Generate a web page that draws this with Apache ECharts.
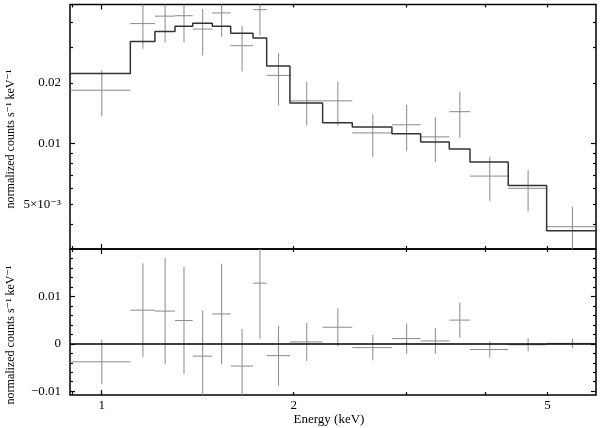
<!DOCTYPE html>
<html><head><meta charset="utf-8">
<script src="https://cdn.jsdelivr.net/npm/echarts@6/dist/echarts.min.js"></script>
<style>html,body{margin:0;padding:0;background:#fff}#c{width:600px;height:428px}</style>
</head><body><div id="c"></div>
<script>
// Energy bin edges (keV)
const binEdges = [0.892, 1.109, 1.212, 1.303, 1.389, 1.491, 1.593, 1.727, 1.814, 1.973, 2.220, 2.471, 2.851, 3.162, 3.507, 3.779, 4.338, 4.983, 5.955];
// Data (normalized counts s^-1 keV^-1)
const counts   = [0.0184, 0.0394, 0.0429, 0.0431, 0.0370, 0.0445, 0.0306, 0.0462, 0.0218, 0.0163, 0.0163, 0.0113, 0.0124, 0.0108, 0.0144, 0.0069, 0.0060, 0.00387];
const countErr = [0.0047, 0.0099, 0.0112, 0.0113, 0.0096, 0.0106, 0.0078, 0.0117, 0.0063, 0.0040, 0.0040, 0.0027, 0.0032, 0.0027, 0.0037, 0.0017, 0.0014, 0.0010];
// Folded model (step)
const model    = [0.0223, 0.0321, 0.0360, 0.0382, 0.0396, 0.0382, 0.0353, 0.0334, 0.0243, 0.0159, 0.0127, 0.0121, 0.0112, 0.0102, 0.0094, 0.0081, 0.0062, 0.0037];
// Residuals (data - model)
const residual = [-0.0038, 0.0071, 0.0069, 0.0049, -0.0026, 0.0063, -0.0047, 0.0128, -0.0025, 0.0004, 0.0035, -0.0008, 0.0011, 0.0006, 0.0050, -0.0012, -0.0002, 0.0001];
const residualErr = countErr;

// Ticks / labels
const xLabelValues = [1, 2, 5];
const xMajorTicks = [1];
const xMinorTicks = [0.9, 2, 3, 4, 5];
const yTopLabelValues = [0.005, 0.01, 0.02];
const yTopMajorTicks = [0.01];
const yTopMinorTicks = [0.004, 0.005, 0.006, 0.007, 0.008, 0.009, 0.02, 0.03, 0.04];
const yBotLabelValues = [-0.01, 0, 0.01];
const yBotMajorTicks = [-0.01, 0, 0.01];
const yBotMinorTicks = [-0.008, -0.006, -0.004, -0.002, 0.002, 0.004, 0.006, 0.008, 0.012, 0.014, 0.016, 0.018];
const yTitle = 'normalized counts s\u207B\u00B9 keV\u207B\u00B9';
const xTitle = 'Energy (keV)';

const FONT = '"Liberation Serif", "DejaVu Serif", serif';
const frameColor = '#000';
const dataColor = '#8a8a8a';
const modelColor = '#333';

const xMin = binEdges[0], xMax = binEdges[binEdges.length - 1];
const topMin = 0.003, topMax = 0.049;
const botMin = -0.0108, botMax = 0.02;

const tickStyle = {color: frameColor, width: 1.2};

function fmtTop(v) {
  const r = +(+v).toPrecision(6);
  if (Math.abs(r - 0.005) < 1e-9) return '5\u00D710\u207B\u00B3';
  return String(r);
}
function fmtBot(v) {
  const r = Math.round(v * 1e6) / 1e6;
  if (r === 0) return '0';
  return (r < 0 ? '\u2212' : '') + Math.abs(r);
}

function xAxesFor(gridIndex, withLabels) {
  const base = {
    type: 'log', logBase: 10, min: xMin, max: xMax, gridIndex,
    axisLine: {show: false, onZero: false},
    splitLine: {show: false}, minorTick: {show: false}, minorSplitLine: {show: false}
  };
  const arr = [];
  ['bottom', 'top'].forEach(pos => {
    const labelOn = withLabels && pos === 'bottom';
    arr.push(Object.assign({}, base, {
      position: pos,
      axisTick: {show: true, inside: true, length: 5, customValues: xMajorTicks, lineStyle: tickStyle},
      axisLabel: labelOn ? {show: true, customValues: xLabelValues, margin: 4, color: '#000',
        fontFamily: FONT, fontSize: 13, formatter: v => String(+(+v).toPrecision(6))} : {show: false},
      name: labelOn ? xTitle : '',
      nameLocation: 'middle', nameGap: 18,
      nameTextStyle: {fontFamily: FONT, fontSize: 13, color: '#000', padding: [0, 8, 0, 0]}
    }));
    arr.push(Object.assign({}, base, {
      position: pos,
      axisTick: {show: true, inside: true, length: 3, customValues: xMinorTicks, lineStyle: tickStyle},
      axisLabel: {show: false}
    }));
  });
  return arr;
}

function yAxesFor(gridIndex, type, min, max, majors, minors, labels, fmt) {
  const base = {
    type, min, max, gridIndex,
    axisLine: {show: false, onZero: false},
    splitLine: {show: false}, minorTick: {show: false}, minorSplitLine: {show: false}
  };
  if (type === 'log') base.logBase = 10;
  const arr = [];
  ['left', 'right'].forEach(pos => {
    arr.push(Object.assign({}, base, {
      position: pos,
      axisTick: {show: true, inside: true, length: 5, customValues: majors, lineStyle: tickStyle},
      axisLabel: pos === 'left' ? {show: true, customValues: labels, margin: 9, color: '#000',
        fontFamily: FONT, fontSize: 13, formatter: fmt} : {show: false}
    }));
    arr.push(Object.assign({}, base, {
      position: pos,
      axisTick: {show: true, inside: true, length: 3, customValues: minors, lineStyle: tickStyle},
      axisLabel: {show: false}
    }));
  });
  return arr;
}

const xAxes = xAxesFor(0, false).concat(xAxesFor(1, true)); // 0..3 grid0, 4..7 grid1
const yAxes = yAxesFor(0, 'log', topMin, topMax, yTopMajorTicks, yTopMinorTicks, yTopLabelValues, fmtTop)
  .concat(yAxesFor(1, 'value', botMin, botMax, yBotMajorTicks, yBotMinorTicks, yBotLabelValues, fmtBot));

function crossData(vals, errs) {
  return vals.map((v, i) => [binEdges[i], binEdges[i + 1], v, errs[i], (binEdges[i] + binEdges[i + 1]) / 2]);
}
function renderCross(params, api) {
  const lo = api.value(0), hi = api.value(1), y = api.value(2), e = api.value(3), xc = api.value(4);
  const pL = api.coord([lo, y]), pR = api.coord([hi, y]);
  const pT = api.coord([xc, y + e]), pB = api.coord([xc, y - e]);
  const st = {stroke: dataColor, lineWidth: 1};
  return {
    type: 'group',
    children: [
      {type: 'line', shape: {x1: pL[0], y1: pL[1], x2: pR[0], y2: pR[1]}, style: st},
      {type: 'line', shape: {x1: pT[0], y1: pT[1], x2: pB[0], y2: pB[1]}, style: st}
    ]
  };
}

const stepData = binEdges.map((e, i) => [e, model[Math.min(i, model.length - 1)]]);

const option = {
  animation: false,
  backgroundColor: '#fff',
  grid: [
    {left: 70, width: 526, top: 4.5, height: 244.5, show: true, borderColor: frameColor, borderWidth: 1.5,
      backgroundColor: 'transparent', containLabel: false, outerBoundsMode: 'none'},
    {left: 70, width: 526, top: 249, height: 146, show: true, borderColor: frameColor, borderWidth: 1.5,
      backgroundColor: 'transparent', containLabel: false, outerBoundsMode: 'none'}
  ],
  xAxis: xAxes,
  yAxis: yAxes,
  graphic: [
    {type: 'text', x: 11, y: 139, rotation: Math.PI / 2,
      style: {text: yTitle, font: '12px ' + FONT, fill: '#000', align: 'center', verticalAlign: 'middle'}},
    {type: 'text', x: 11, y: 335, rotation: Math.PI / 2,
      style: {text: yTitle, font: '12px ' + FONT, fill: '#000', align: 'center', verticalAlign: 'middle'}}
  ],
  series: [
    {
      type: 'custom', xAxisIndex: 0, yAxisIndex: 0, clip: true,
      renderItem: renderCross, encode: {x: [0, 1], y: 2},
      data: crossData(counts, countErr), z: 2
    },
    {
      type: 'line', xAxisIndex: 0, yAxisIndex: 0, step: 'end', symbol: 'none',
      lineStyle: {color: modelColor, width: 1.5}, data: stepData, z: 3
    },
    {
      type: 'custom', xAxisIndex: 4, yAxisIndex: 4, clip: true,
      renderItem: renderCross, encode: {x: [0, 1], y: 2},
      data: crossData(residual, residualErr), z: 2,
      markLine: {silent: true, symbol: 'none', label: {show: false},
        lineStyle: {color: '#000', width: 1.5, type: 'solid'}, data: [{yAxis: 0}]}
    }
  ]
};
const chart = echarts.init(document.getElementById('c'), null, {renderer: 'canvas'});
chart.setOption(option);
</script>
</body></html>
